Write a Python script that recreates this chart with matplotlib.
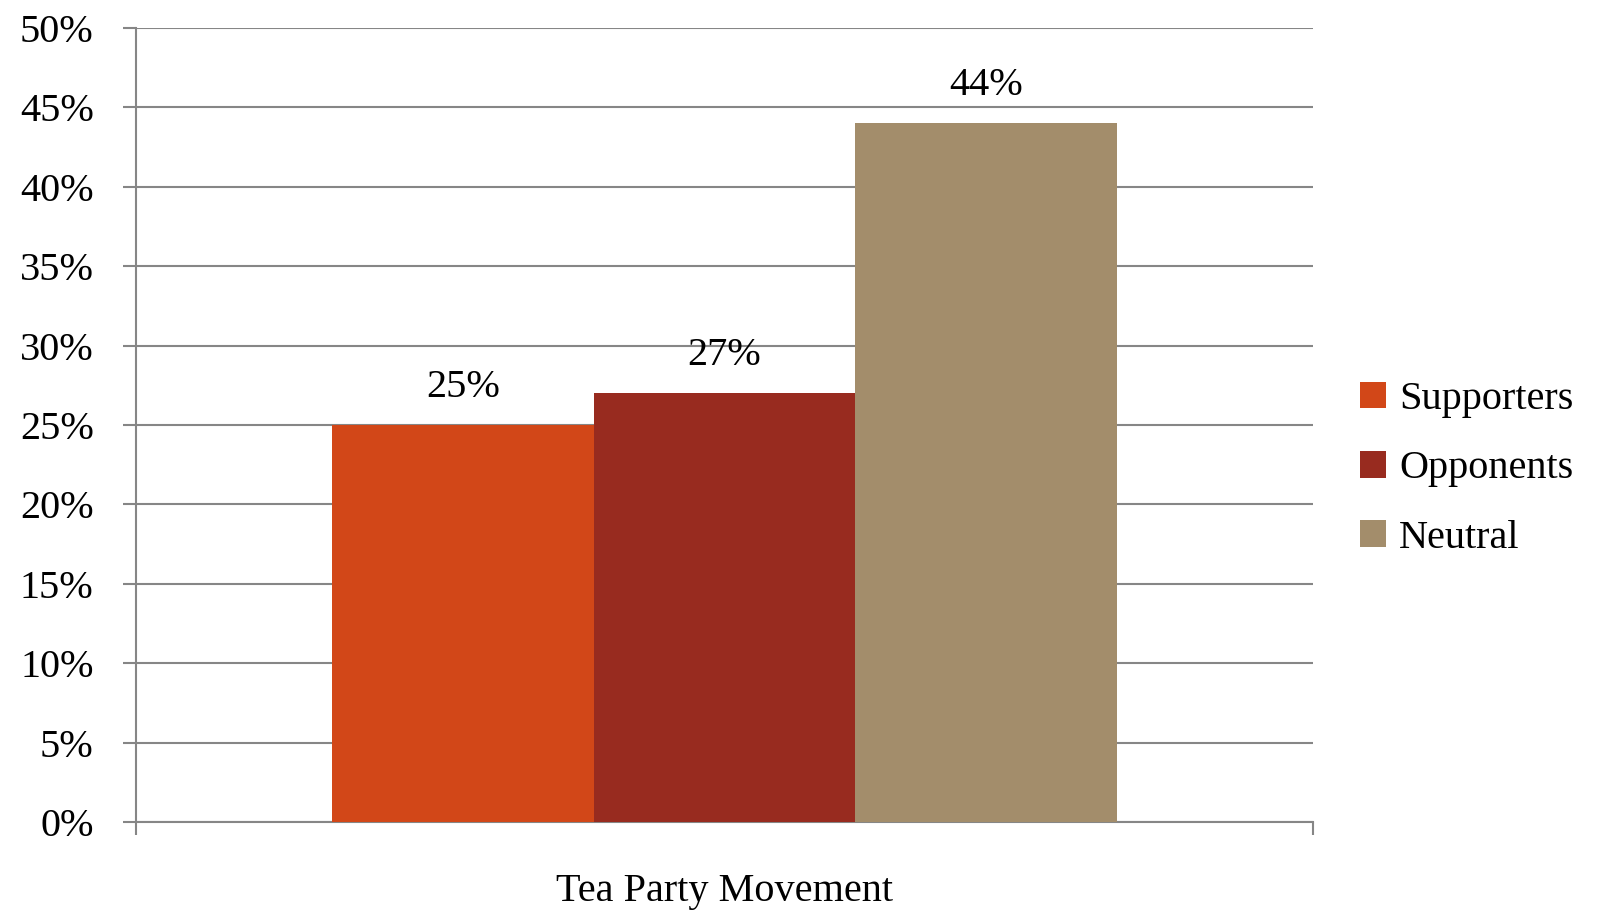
import matplotlib
matplotlib.use("Agg")
import matplotlib.pyplot as plt

plt.rcParams['font.family'] = ['Liberation Serif', 'DejaVu Serif']

category = "Tea Party Movement"
series = ["Supporters", "Opponents", "Neutral"]
values = [25, 27, 44]
colors = ["#D24718", "#982B1F", "#A38D6B"]
yticks = [0, 5, 10, 15, 20, 25, 30, 35, 40, 45, 50]

W, H = 1610, 914
fig = plt.figure(figsize=(W / 100, H / 100), dpi=100)
ax = fig.add_axes([136 / W, (H - 822) / H, 1177 / W, (822 - 28) / H])

grid_c = "#868686"
bw = 2 / 9
offsets = [-bw, 0, bw]
for s, v, c, o in zip(series, values, colors, offsets):
    ax.bar(0 + o, v, width=bw, color=c, label=s, zorder=3)
    ax.annotate(f"{v}%", (0 + o, v), xytext=(0, 27), textcoords="offset points",
                ha="center", va="center", fontsize=29, color="black")

ax.set_xlim(-0.5, 0.5)
ax.set_ylim(0, 50)
ax.set_yticks(yticks)
ax.set_yticklabels([f"{t}%" for t in yticks], fontsize=29)
ax.yaxis.grid(True, color=grid_c, linewidth=1.5, zorder=0)
ax.set_axisbelow(True)

ax.set_xticks([-0.5, 0.5])
ax.set_xticklabels(["", ""])
ax.tick_params(axis="x", length=9.5, width=1.5, color=grid_c, direction="out")
ax.tick_params(axis="y", length=9.5, width=1.5, color=grid_c, direction="out", pad=21)

for sp in ["top", "right"]:
    ax.spines[sp].set_visible(False)
ax.spines["left"].set_color(grid_c)
ax.spines["left"].set_linewidth(1.5)
ax.spines["bottom"].set_color(grid_c)
ax.spines["bottom"].set_linewidth(1.5)

ax.text(0, -0.088, category, transform=ax.get_xaxis_transform(), ha="center", va="center", fontsize=29)

leg = ax.legend(loc="center left", bbox_to_anchor=(1224 / 1177, 0.4446), frameon=False,
                fontsize=29, handlelength=0.64, handleheight=0.64, handletextpad=0.33,
                labelspacing=0.80, borderaxespad=0, borderpad=0)

fig.savefig("out.png", dpi=100, facecolor="white")
